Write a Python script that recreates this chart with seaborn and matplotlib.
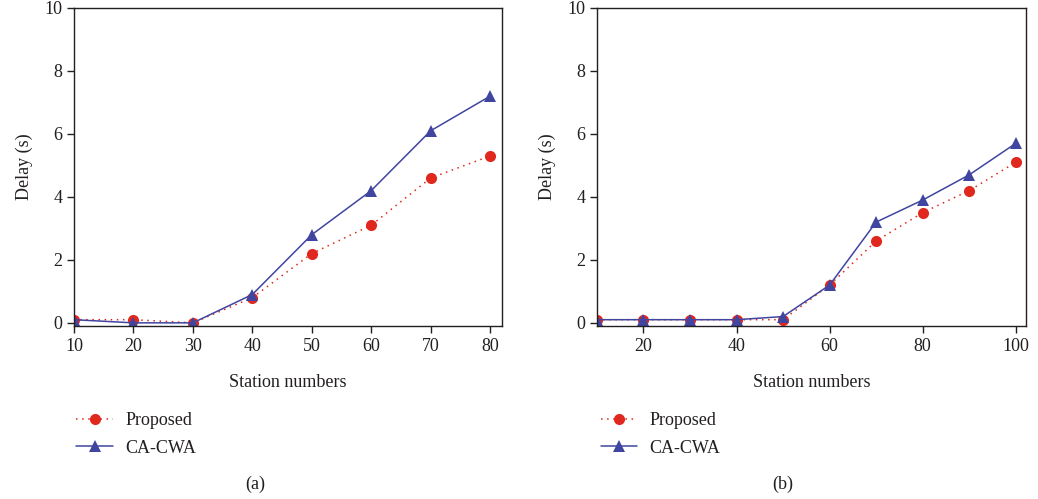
import pandas as pd
import matplotlib
matplotlib.use("Agg")
import matplotlib.pyplot as plt
import seaborn as sns

# data
stations_a = [10, 20, 30, 40, 50, 60, 70, 80]
proposed_a = [0.1, 0.1, 0.0, 0.8, 2.2, 3.1, 4.6, 5.3]
cacwa_a = [0.1, 0.0, 0.0, 0.9, 2.8, 4.2, 6.1, 7.2]

stations_b = [10, 20, 30, 40, 50, 60, 70, 80, 90, 100]
proposed_b = [0.1, 0.1, 0.1, 0.1, 0.1, 1.2, 2.6, 3.5, 4.2, 5.1]
cacwa_b = [0.1, 0.1, 0.1, 0.1, 0.2, 1.2, 3.2, 3.9, 4.7, 5.7]

series_names = ["Proposed", "CA-CWA"]
ticks_a = [10, 20, 30, 40, 50, 60, 70, 80]
ticks_b = [20, 40, 60, 80, 100]

sns.set_style("ticks")
plt.rcParams['font.family'] = ['Liberation Serif', 'DejaVu Serif']

INK = "#231f20"
palette = {"Proposed": "#e0281e", "CA-CWA": "#4045a0"}
markers = {"Proposed": "o", "CA-CWA": "^"}
dashes = {"Proposed": (1, 3), "CA-CWA": ""}


def long_form(x, p, c):
    return pd.DataFrame({
        "station": list(x) * 2,
        "delay": list(p) + list(c),
        "method": [series_names[0]] * len(x) + [series_names[1]] * len(x),
    })


fig = plt.figure(figsize=(10.38, 4.99), dpi=100)
ax_a = fig.add_axes([0.0713, 0.3467, 0.4123, 0.6373])
ax_b = fig.add_axes([0.5751, 0.3467, 0.4133, 0.6373])

panels = [
    (ax_a, long_form(stations_a, proposed_a, cacwa_a), (10, 82), ticks_a, 0.058, "(a)", 0.246),
    (ax_b, long_form(stations_b, proposed_b, cacwa_b), (10, 102.2), ticks_b, 0.563, "(b)", 0.754),
]

for ax, df, xlim, xt, leg_x, cap, cap_x in panels:
    sns.lineplot(data=df, x="station", y="delay", hue="method", style="method",
                 palette=palette, markers=markers, dashes=dashes, markersize=8,
                 markeredgewidth=0, linewidth=1.1, ax=ax)
    ax.set_xlim(*xlim)
    ax.set_ylim(-0.1, 10)
    ax.set_xticks(xt)
    ax.set_yticks([0, 2, 4, 6, 8, 10])
    ax.set_xlabel("Station numbers", fontsize=13, color=INK, labelpad=14)
    ax.set_ylabel("Delay (s)", fontsize=13, color=INK, labelpad=8)
    ax.tick_params(labelsize=13, colors=INK, length=5, width=1, direction="out")
    for s in ax.spines.values():
        s.set_color(INK)
        s.set_linewidth(1.0)
    sns.move_legend(ax, "upper left", bbox_to_anchor=(leg_x, 0.207),
                    bbox_transform=fig.transFigure, frameon=False, title=None,
                    fontsize=13, handlelength=2.0, handletextpad=0.7, labelspacing=0.6)
    for t in ax.get_legend().get_texts():
        t.set_color(INK)
    fig.text(cap_x, 0.02, cap, fontsize=13, color=INK, ha="center")

fig.savefig("out.png", dpi=100)
